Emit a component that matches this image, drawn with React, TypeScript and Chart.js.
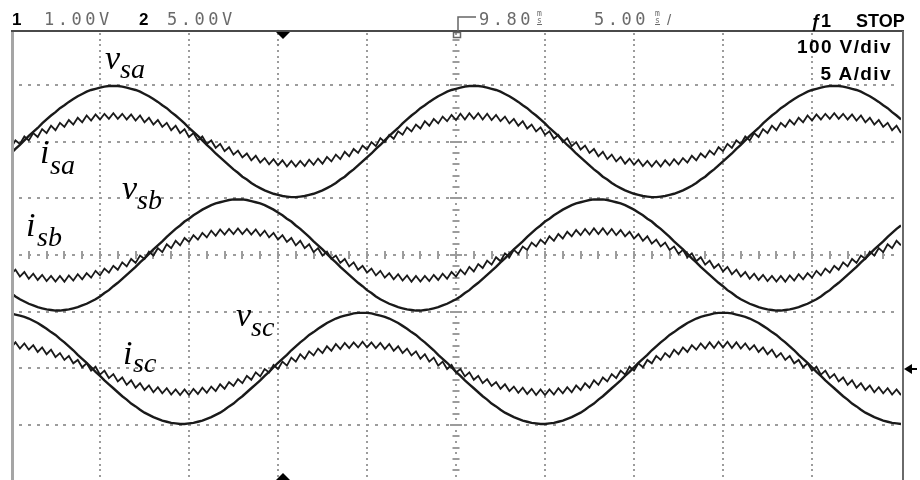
import React, { useEffect, useRef } from "react";
import { Chart, registerables } from "chart.js";
Chart.register(...registerables);

// ---- axis setup (oscilloscope divisions) ----
const SAMPLE_STEP = 0.05; // divisions per sample (0.25 ms at 5 ms/div)
const X_MIN = 0;
const X_MAX = 10;
const Y_MIN = -3.95;
const Y_MAX = 3.95;

// ---- header / annotation texts ----
const CH1_NUM = "1";
const CH1_SCALE = "1.00V";
const CH2_NUM = "2";
const CH2_SCALE = "5.00V";
const DELAY = "9.80";
const TIMEBASE = "5.00";
const TRIG = "\u01921";
const RUN_STATE = "STOP";
const V_SCALE = "100 V/div";
const I_SCALE = "5 A/div";

// ---- traces, values in divisions, one sample every SAMPLE_STEP ----
const VSA = [
  1.79,1.87,1.94,2.02,2.10,2.17,2.24,2.32,2.39,2.46,2.52,2.59,2.64,2.70,2.75,2.80,2.84,2.88,2.91,2.93,2.95,2.97,2.98,
  2.98,2.98,2.97,2.95,2.93,2.91,2.88,2.84,2.80,2.75,2.70,2.64,2.59,2.52,2.46,2.39,2.32,2.24,2.17,2.10,2.02,1.94,1.87,1.79,1.72,1.65,1.58,1.51,1.45,1.38,1.33,1.27,1.22,1.18,1.14,1.11,1.08,1.06,1.04,1.03,1.02,1.02,1.03,1.04,1.06,1.08,1.11,1.14,1.18,1.22,1.27,1.33,1.38,1.45,1.51,1.58,1.65,1.72,1.79,1.87,1.94,2.02,2.10,2.17,2.24,2.32,2.39,2.46,2.52,2.59,2.64,2.70,2.75,2.80,2.84,2.88,2.91,2.93,2.95,2.97,2.98,
  2.98,2.98,2.97,2.95,2.93,2.91,2.88,2.84,2.80,2.75,2.70,2.64,2.59,2.52,2.46,2.39,2.32,2.24,2.17,2.10,2.02,1.94,1.87,1.79,1.72,1.65,1.58,1.51,1.45,1.38,1.33,1.27,1.22,1.18,1.14,1.11,1.08,1.06,1.04,1.03,1.02,1.02,1.03,1.04,1.06,1.08,1.11,1.14,1.18,1.22,1.27,1.33,1.38,1.45,1.51,1.58,1.65,1.72,1.79,1.87,1.94,2.02,2.10,2.17,2.24,2.32,2.39,2.46,2.52,2.59,2.64,2.70,2.75,2.80,2.84,2.88,2.91,2.93,2.95,2.97,2.98,
  2.98,2.98,2.97,2.95,2.93,2.91,2.88,2.84,2.80,2.75,2.70,2.64,2.59,2.52,2.46,2.39,2.32,
];

const ISA = [
  1.89,2.02,1.96,2.09,2.02,2.15,2.08,2.22,2.15,2.28,2.20,2.33,2.26,2.38,2.30,2.42,2.34,2.46,2.37,2.48,2.39,2.49,2.40,
  2.50,2.40,2.49,2.39,2.48,2.37,2.46,2.34,2.42,2.30,2.38,2.26,2.33,2.20,2.28,2.15,2.22,2.08,2.15,2.02,2.09,1.96,2.02,1.89,1.96,1.83,1.90,1.77,1.84,1.72,1.79,1.67,1.75,1.63,1.71,1.60,1.69,1.58,1.67,1.56,1.66,1.56,1.66,1.57,1.68,1.59,1.70,1.61,1.73,1.65,1.77,1.69,1.82,1.74,1.87,1.80,1.93,1.86,1.99,1.92,2.06,1.99,2.12,2.05,2.18,2.12,2.25,2.18,2.30,2.23,2.36,2.28,2.40,2.32,2.44,2.36,2.47,2.38,2.49,2.39,2.50,
  2.40,2.50,2.39,2.49,2.38,2.47,2.36,2.44,2.32,2.40,2.28,2.36,2.23,2.30,2.18,2.25,2.12,2.18,2.05,2.12,1.99,2.06,1.92,1.99,1.86,1.93,1.80,1.87,1.74,1.82,1.69,1.77,1.65,1.73,1.61,1.70,1.59,1.68,1.57,1.66,1.56,1.66,1.56,1.67,1.58,1.69,1.60,1.71,1.63,1.75,1.67,1.79,1.72,1.84,1.77,1.90,1.83,1.96,1.89,2.02,1.96,2.09,2.02,2.15,2.08,2.22,2.15,2.28,2.20,2.33,2.26,2.38,2.30,2.42,2.34,2.46,2.37,2.48,2.39,2.49,2.40,
  2.50,2.40,2.49,2.39,2.48,2.37,2.46,2.34,2.42,2.30,2.38,2.26,2.33,2.20,2.28,2.15,2.22,
];

const VSB = [
  -0.67,-0.73,-0.78,-0.82,-0.86,-0.89,-0.92,-0.94,-0.96,-0.97,-0.98,-0.98,-0.97,-0.96,-0.94,-0.92,-0.89,-0.86,-0.82,-0.78,-0.73,-0.67,-0.62,-0.55,-0.49,-0.42,-0.35,-0.28,-0.21,-0.13,-0.06,0.02,0.10,0.17,0.24,0.32,0.39,0.46,0.52,0.59,0.64,0.70,0.75,0.80,0.84,0.88,0.91,0.93,0.95,0.97,0.98,
  0.98,0.98,0.97,0.95,0.93,0.91,0.88,0.84,0.80,0.75,0.70,0.64,0.59,0.52,0.46,0.39,0.32,0.24,0.17,0.10,0.02,-0.06,-0.13,-0.21,-0.28,-0.35,-0.42,-0.49,-0.55,-0.62,-0.67,-0.73,-0.78,-0.82,-0.86,-0.89,-0.92,-0.94,-0.96,-0.97,-0.98,-0.98,-0.97,-0.96,-0.94,-0.92,-0.89,-0.86,-0.82,-0.78,-0.73,-0.67,-0.62,-0.55,-0.49,-0.42,-0.35,-0.28,-0.21,-0.13,-0.06,0.02,0.10,0.17,0.24,0.32,0.39,0.46,0.52,0.59,0.64,0.70,0.75,0.80,0.84,0.88,0.91,0.93,0.95,0.97,0.98,
  0.98,0.98,0.97,0.95,0.93,0.91,0.88,0.84,0.80,0.75,0.70,0.64,0.59,0.52,0.46,0.39,0.32,0.24,0.17,0.10,0.02,-0.06,-0.13,-0.21,-0.28,-0.35,-0.42,-0.49,-0.55,-0.62,-0.67,-0.73,-0.78,-0.82,-0.86,-0.89,-0.92,-0.94,-0.96,-0.97,-0.98,-0.98,-0.97,-0.96,-0.94,-0.92,-0.89,-0.86,-0.82,-0.78,-0.73,-0.67,-0.62,-0.55,-0.49,-0.42,-0.35,-0.28,-0.21,-0.13,-0.06,0.02,0.10,0.17,0.24,0.32,0.39,0.46,0.52,0.59,
];

const ISB = [
  -0.34,-0.26,-0.38,-0.30,-0.42,-0.33,-0.44,-0.35,-0.46,-0.37,-0.47,-0.37,-0.47,-0.36,-0.45,-0.34,-0.43,-0.32,-0.40,-0.28,-0.36,-0.24,-0.31,-0.19,-0.26,-0.13,-0.20,-0.07,-0.14,-0.01,-0.07,0.06,-0.01,0.12,0.05,0.19,0.12,0.25,0.17,0.30,0.23,0.35,0.27,0.39,0.31,0.43,0.34,0.45,0.36,0.46,0.37,
  0.47,0.37,0.46,0.36,0.45,0.34,0.43,0.31,0.39,0.27,0.35,0.23,0.30,0.17,0.25,0.12,0.19,0.05,0.12,-0.01,0.06,-0.07,-0.01,-0.14,-0.07,-0.20,-0.13,-0.26,-0.19,-0.31,-0.24,-0.36,-0.28,-0.40,-0.32,-0.43,-0.34,-0.45,-0.36,-0.47,-0.37,-0.47,-0.37,-0.46,-0.35,-0.44,-0.33,-0.42,-0.30,-0.38,-0.26,-0.34,-0.21,-0.29,-0.16,-0.23,-0.10,-0.17,-0.04,-0.11,0.03,-0.04,0.09,0.02,0.15,0.09,0.22,0.15,0.27,0.20,0.33,0.25,0.37,0.29,0.41,0.33,0.44,0.35,0.46,0.36,0.47,
  0.37,0.47,0.36,0.46,0.35,0.44,0.33,0.41,0.29,0.37,0.25,0.33,0.20,0.27,0.15,0.22,0.09,0.15,0.02,0.09,-0.04,0.03,-0.11,-0.04,-0.17,-0.10,-0.23,-0.16,-0.29,-0.21,-0.34,-0.26,-0.38,-0.30,-0.42,-0.33,-0.44,-0.35,-0.46,-0.37,-0.47,-0.37,-0.47,-0.36,-0.45,-0.34,-0.43,-0.32,-0.40,-0.28,-0.36,-0.24,-0.31,-0.19,-0.26,-0.13,-0.20,-0.07,-0.14,-0.01,-0.07,0.06,-0.01,0.12,0.05,0.19,0.12,0.25,0.17,0.30,
];

const VSC = [
  -1.03,-1.05,-1.07,-1.09,-1.12,-1.16,-1.20,-1.25,-1.30,-1.36,-1.41,-1.48,-1.54,-1.61,-1.68,-1.76,-1.83,-1.90,-1.98,-2.06,-2.13,-2.21,-2.28,-2.35,-2.42,-2.49,-2.55,-2.62,-2.67,-2.73,-2.78,-2.82,-2.86,-2.89,-2.92,-2.94,-2.96,-2.97,-2.98,-2.98,-2.97,-2.96,-2.94,-2.92,-2.89,-2.86,-2.82,-2.78,-2.73,-2.67,-2.62,-2.55,-2.49,-2.42,-2.35,-2.28,-2.21,-2.13,-2.06,-1.98,-1.90,-1.83,-1.76,-1.68,-1.61,-1.54,-1.48,-1.41,-1.36,-1.30,-1.25,-1.20,-1.16,-1.12,-1.09,-1.07,-1.05,-1.03,-1.02,
  -1.02,-1.02,-1.03,-1.05,-1.07,-1.09,-1.12,-1.16,-1.20,-1.25,-1.30,-1.36,-1.41,-1.48,-1.54,-1.61,-1.68,-1.76,-1.83,-1.90,-1.98,-2.06,-2.13,-2.21,-2.28,-2.35,-2.42,-2.49,-2.55,-2.62,-2.67,-2.73,-2.78,-2.82,-2.86,-2.89,-2.92,-2.94,-2.96,-2.97,-2.98,-2.98,-2.97,-2.96,-2.94,-2.92,-2.89,-2.86,-2.82,-2.78,-2.73,-2.67,-2.62,-2.55,-2.49,-2.42,-2.35,-2.28,-2.21,-2.13,-2.06,-1.98,-1.90,-1.83,-1.76,-1.68,-1.61,-1.54,-1.48,-1.41,-1.36,-1.30,-1.25,-1.20,-1.16,-1.12,-1.09,-1.07,-1.05,-1.03,-1.02,
  -1.02,-1.02,-1.03,-1.05,-1.07,-1.09,-1.12,-1.16,-1.20,-1.25,-1.30,-1.36,-1.41,-1.48,-1.54,-1.61,-1.68,-1.76,-1.83,-1.90,-1.98,-2.06,-2.13,-2.21,-2.28,-2.35,-2.42,-2.49,-2.55,-2.62,-2.67,-2.73,-2.78,-2.82,-2.86,-2.89,-2.92,-2.94,-2.96,-2.97,-2.98,-2.98,
];

const ISC = [
  -1.64,-1.54,-1.65,-1.56,-1.67,-1.59,-1.71,-1.63,-1.75,-1.67,-1.80,-1.73,-1.85,-1.78,-1.91,-1.85,-1.98,-1.91,-2.04,-1.97,-2.11,-2.04,-2.17,-2.10,-2.23,-2.16,-2.29,-2.21,-2.34,-2.26,-2.38,-2.30,-2.42,-2.33,-2.44,-2.35,-2.46,-2.37,-2.47,-2.37,-2.47,-2.36,-2.45,-2.34,-2.43,-2.32,-2.40,-2.28,-2.36,-2.24,-2.31,-2.19,-2.26,-2.13,-2.20,-2.07,-2.14,-2.01,-2.07,-1.94,-2.01,-1.88,-1.95,-1.81,-1.88,-1.75,-1.83,-1.70,-1.77,-1.65,-1.73,-1.61,-1.69,-1.57,-1.66,-1.55,-1.64,-1.54,-1.63,
  -1.53,-1.63,-1.54,-1.64,-1.55,-1.66,-1.57,-1.69,-1.61,-1.73,-1.65,-1.77,-1.70,-1.83,-1.75,-1.88,-1.81,-1.95,-1.88,-2.01,-1.94,-2.07,-2.01,-2.14,-2.07,-2.20,-2.13,-2.26,-2.19,-2.31,-2.24,-2.36,-2.28,-2.40,-2.32,-2.43,-2.34,-2.45,-2.36,-2.47,-2.37,-2.47,-2.37,-2.46,-2.35,-2.44,-2.33,-2.42,-2.30,-2.38,-2.26,-2.34,-2.21,-2.29,-2.16,-2.23,-2.10,-2.17,-2.04,-2.11,-1.97,-2.04,-1.91,-1.98,-1.85,-1.91,-1.78,-1.85,-1.73,-1.80,-1.67,-1.75,-1.63,-1.71,-1.59,-1.67,-1.56,-1.65,-1.54,-1.64,-1.53,
  -1.63,-1.53,-1.64,-1.54,-1.65,-1.56,-1.67,-1.59,-1.71,-1.63,-1.75,-1.67,-1.80,-1.73,-1.85,-1.78,-1.91,-1.85,-1.98,-1.91,-2.04,-1.97,-2.11,-2.04,-2.17,-2.10,-2.23,-2.16,-2.29,-2.21,-2.34,-2.26,-2.38,-2.30,-2.42,-2.33,-2.44,-2.35,-2.46,-2.37,-2.47,-2.37,
];

const TRACE_NAMES = ["vsa", "isa", "vsb", "isb", "vsc", "isc"];
const TRACES = [VSA, ISA, VSB, ISB, VSC, ISC];

// label layout (pixel positions of the hand-written trace names)
const LABELS = [
  { main: "v", sub: "sa", x: 105, base: 70, sx: 120, sbase: 79 },
  { main: "i", sub: "sa", x: 40, base: 164, sx: 50, sbase: 175 },
  { main: "v", sub: "sb", x: 122, base: 200, sx: 137, sbase: 210 },
  { main: "i", sub: "sb", x: 26, base: 237, sx: 37, sbase: 247 },
  { main: "v", sub: "sc", x: 236, base: 327, sx: 251, sbase: 337 },
  { main: "i", sub: "sc", x: 123, base: 365, sx: 133, sbase: 373 },
];

const scopeGrid = {
  id: "scopeGrid",
  beforeDatasetsDraw(chart: any) {
    const { ctx, scales } = chart;
    const x = scales.x;
    const y = scales.y;
    ctx.save();
    ctx.fillStyle = "#9c9c9c";
    const yk0 = Math.ceil(Y_MIN * 10);
    const yk1 = Math.floor(Y_MAX * 10);
    for (let d = 1; d < 10; d++) {
      const px = Math.round(x.getPixelForValue(d));
      for (let k = yk0; k <= yk1; k++) {
        const py = Math.round(y.getPixelForValue(k / 10));
        ctx.fillRect(px - 1, py - 1, 2, 2);
      }
    }
    for (let d = -3; d <= 3; d++) {
      const py = Math.round(y.getPixelForValue(d));
      for (let k = 1; k < 100; k++) {
        const px = Math.round(x.getPixelForValue(k / 10));
        ctx.fillRect(px - 1, py - 1, 3, 2);
      }
    }
    // centre-axis tick marks
    const cx = Math.round(x.getPixelForValue(5));
    for (let k = yk0; k <= yk1; k++) {
      if (k % 2 !== 0) continue;
      const py = Math.round(y.getPixelForValue(k / 10));
      const w = k % 10 === 0 ? 12 : 7;
      ctx.fillRect(cx - w / 2, py - 1, w, 2);
    }
    const cy = Math.round(y.getPixelForValue(0));
    for (let k = 2; k < 100; k += 2) {
      const px = Math.round(x.getPixelForValue(k / 10));
      ctx.fillRect(px - 1, cy - 4, 2, 8);
    }
    ctx.restore();
  },
  afterDatasetsDraw(chart: any) {
    const { ctx } = chart;
    ctx.save();
    // frame
    ctx.fillStyle = "#a5a5a5";
    ctx.fillRect(11, 31, 3, 449);
    ctx.fillStyle = "#4a4a4a";
    ctx.fillRect(11, 30, 893, 2);
    ctx.fillStyle = "#6a6a6a";
    ctx.fillRect(902, 31, 2, 449);
    // trigger markers
    ctx.fillStyle = "#000";
    ctx.beginPath();
    ctx.moveTo(276, 32);
    ctx.lineTo(290, 32);
    ctx.lineTo(283, 39);
    ctx.closePath();
    ctx.fill();
    ctx.beginPath();
    ctx.moveTo(276, 480);
    ctx.lineTo(290, 480);
    ctx.lineTo(283, 473);
    ctx.closePath();
    ctx.fill();
    ctx.beginPath();
    ctx.moveTo(904, 369);
    ctx.lineTo(912, 364);
    ctx.lineTo(912, 374);
    ctx.closePath();
    ctx.fill();
    ctx.fillRect(911, 368, 6, 2);
    // delay marker
    ctx.strokeStyle = "#666";
    ctx.lineWidth = 1.5;
    ctx.beginPath();
    ctx.moveTo(458, 31);
    ctx.lineTo(458, 17);
    ctx.lineTo(476, 17);
    ctx.stroke();
    ctx.strokeRect(453.5, 32.5, 7, 5);
    ctx.restore();
  },
};

function Txt(props: any) {
  const { x, base, size, family, weight, italic, color, spacing, right, children } = props;
  const style: any = {
    position: "absolute",
    top: base - size * 0.84,
    fontSize: size,
    lineHeight: `${size}px`,
    fontFamily: family,
    fontWeight: weight || "normal",
    fontStyle: italic ? "italic" : "normal",
    color: color || "#000",
    letterSpacing: spacing || 0,
    whiteSpace: "pre",
  };
  if (right !== undefined) style.right = right;
  else style.left = x;
  return <span style={style}>{children}</span>;
}

export default function App() {
  const ref = useRef<HTMLCanvasElement>(null);
  useEffect(() => {
    const datasets = TRACES.map((arr, t) => ({
      label: TRACE_NAMES[t],
      data: arr.map((v, i) => ({ x: i * SAMPLE_STEP, y: v })),
      borderColor: "#1a1a1a",
      borderWidth: t % 2 === 0 ? 2.4 : 1.8,
      pointRadius: 0,
      tension: 0,
      fill: false,
    }));
    const chart = new Chart(ref.current as HTMLCanvasElement, {
      type: "line",
      data: { datasets },
      options: {
        responsive: false,
        animation: false,
        events: [],
        layout: { padding: { left: 11, right: 19, top: 31, bottom: 1 } },
        scales: {
          x: { type: "linear", min: X_MIN, max: X_MAX, display: false },
          y: { type: "linear", min: Y_MIN, max: Y_MAX, display: false },
        },
        plugins: { legend: { display: false }, tooltip: { enabled: false } },
      },
      plugins: [scopeGrid],
    } as any);
    return () => chart.destroy();
  }, []);

  const mono = '"DejaVu Sans Mono", monospace';
  const sans = '"Liberation Sans", Arial, sans-serif';
  const serif = '"Liberation Serif", "Times New Roman", serif';
  return (
    <div style={{ position: "absolute", left: 0, top: 0, width: 920, height: 480, background: "#fff", overflow: "hidden" }}>
      <canvas ref={ref} width={920} height={480} style={{ position: "absolute", left: 0, top: 0, width: 920, height: 480 }} />
      <Txt x={12} base={25} size={17} family={sans} weight="bold">{CH1_NUM}</Txt>
      <Txt x={44} base={25} size={17} family={mono} color="#6a6a6a" spacing="3.5px">{CH1_SCALE}</Txt>
      <Txt x={139} base={25} size={17} family={sans} weight="bold">{CH2_NUM}</Txt>
      <Txt x={167} base={25} size={17} family={mono} color="#6a6a6a" spacing="3.5px">{CH2_SCALE}</Txt>
      <Txt x={479} base={25} size={17} family={mono} color="#6a6a6a" spacing="3.5px">{DELAY}</Txt>
      <span style={{ position: "absolute", left: 537, top: 10, fontSize: 8, lineHeight: "7px", fontFamily: mono, color: "#6a6a6a", textAlign: "center", borderBottom: "1px solid #6a6a6a" }}>m<br />s</span>
      <Txt x={594} base={25} size={17} family={mono} color="#6a6a6a" spacing="3.5px">{TIMEBASE}</Txt>
      <span style={{ position: "absolute", left: 655, top: 10, fontSize: 8, lineHeight: "7px", fontFamily: mono, color: "#6a6a6a", textAlign: "center", borderBottom: "1px solid #6a6a6a" }}>m<br />s</span>
      <Txt x={667} base={25} size={15} family={sans} color="#6a6a6a">/</Txt>
      <Txt x={811} base={27} size={18} family={sans} weight="bold">{TRIG}</Txt>
      <Txt x={856} base={27} size={18} family={sans} weight="bold">{RUN_STATE}</Txt>
      <Txt right={28} base={53} size={19} family={sans} weight="bold" spacing="1.4px">{V_SCALE}</Txt>
      <Txt right={28} base={80} size={19} family={sans} weight="bold" spacing="1.4px">{I_SCALE}</Txt>
      {LABELS.map((l, i) => (
        <React.Fragment key={i}>
          <Txt x={l.x} base={l.base} size={34} family={serif} italic>{l.main}</Txt>
          <Txt x={l.sx} base={l.sbase} size={28} family={serif} italic>{l.sub}</Txt>
        </React.Fragment>
      ))}
    </div>
  );
}
